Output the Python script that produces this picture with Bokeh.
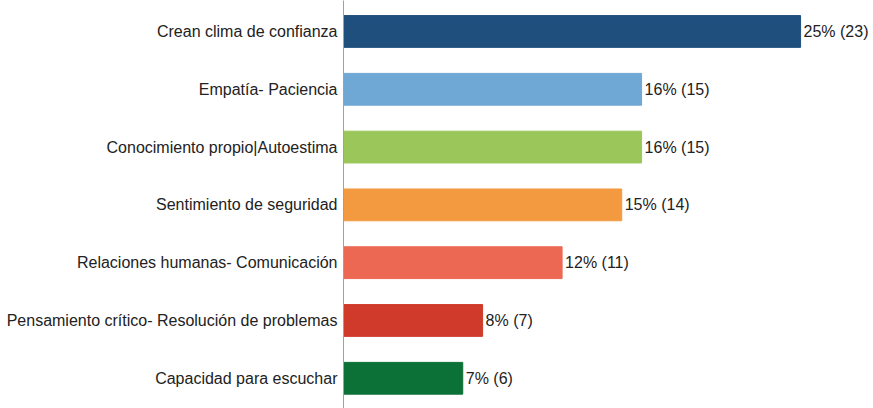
from bokeh.plotting import figure
from bokeh.models import ColumnDataSource, Range1d, FixedTicker
from bokeh.embed import file_html
from bokeh.resources import INLINE
from bokeh.core.properties import value

categories = [
    "Crean clima de confianza",
    "Empatía- Paciencia",
    "Conocimiento propio|Autoestima",
    "Sentimiento de seguridad",
    "Relaciones humanas- Comunicación",
    "Pensamiento crítico- Resolución de problemas",
    "Capacidad para escuchar",
]
counts = [23, 15, 15, 14, 11, 7, 6]
percents = [25, 16, 16, 15, 12, 8, 7]
colors = ["#1f4f7d", "#6fa7d5", "#9bc75a", "#f39a40", "#ec6853", "#cf3a2a", "#0b7136"]

n = len(categories)
ypos = [n - 1 - i for i in range(n)]
labels = [f"{p}% ({c})" for p, c in zip(percents, counts)]

src = ColumnDataSource(dict(y=ypos, count=counts, color=colors, label=labels))

FONT = "Liberation Sans"

p = figure(width=873, height=408, output_backend="svg", toolbar_location=None,
           x_range=Range1d(0, 26.67), y_range=Range1d(-0.523, 6.536),
           min_border_left=343, min_border_right=0, min_border_top=0, min_border_bottom=0)
p.hbar(y="y", left=0, right="count", height=0.55, color="color", source=src)
p.text(x="count", y="y", text="label", source=src, x_offset=3,
       text_baseline="middle", text_align="left",
       text_font=value(FONT), text_font_size="16px", text_color="#222222")

p.xaxis.visible = False
p.grid.visible = False
p.outline_line_color = None
yax = p.yaxis[0]
yax.ticker = FixedTicker(ticks=ypos)
yax.major_label_overrides = {y: c for y, c in zip(ypos, categories)}
yax.major_tick_line_color = None
yax.minor_tick_line_color = None
yax.major_tick_out = 0
yax.major_tick_in = 0
yax.major_label_standoff = 6
yax.axis_line_color = "#a0a0a0"
yax.major_label_text_font = FONT
yax.major_label_text_font_size = "16px"
yax.major_label_text_color = "#222222"

open("out.html", "w").write(file_html(p, INLINE))
